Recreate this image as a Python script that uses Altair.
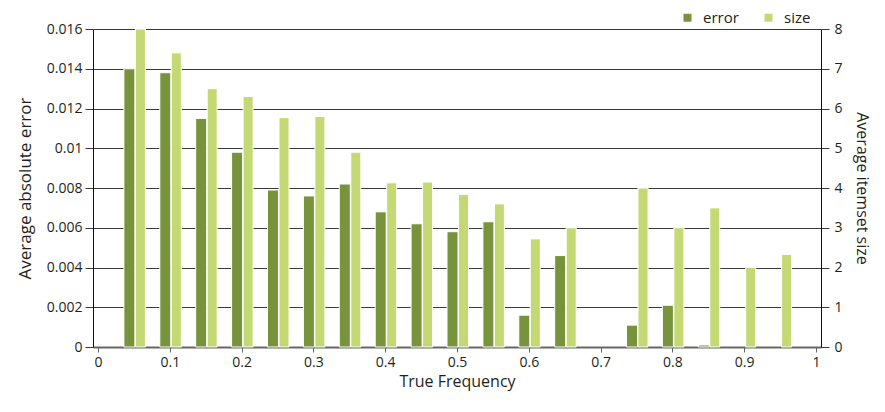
import altair as alt
import pandas as pd

freq = [0.05, 0.10, 0.15, 0.20, 0.25, 0.30, 0.35, 0.40, 0.45, 0.50,
        0.55, 0.60, 0.65, 0.70, 0.75, 0.80, 0.85, 0.90, 0.95]
error = [0.0140, 0.0138, 0.0115, 0.0098, 0.0079, 0.0076, 0.0082, 0.0068, 0.0062, 0.0058,
         0.0063, 0.0016, 0.0046, 0.0, 0.0011, 0.0021, 0.0001, 0.0, 0.0]
size = [8.0, 7.4, 6.5, 6.3, 5.77, 5.8, 4.9, 4.13, 4.15, 3.84,
        3.6, 2.72, 3.0, 0.0, 4.0, 3.0, 3.5, 2.0, 2.33]

x_ticks = [0, 0.1, 0.2, 0.3, 0.4, 0.5, 0.6, 0.7, 0.8, 0.9, 1]
err_ticks = [0, 0.002, 0.004, 0.006, 0.008, 0.01, 0.012, 0.014, 0.016]
size_ticks = [0, 1, 2, 3, 4, 5, 6, 7, 8]

df = pd.DataFrame({"freq": freq, "error": error, "size": size})

FONT = "Open Sans"
TXT = "#231f20"
DARK = "#77933c"
LIGHT = "#c4d873"

x = alt.X(
    "freq:Q",
    scale=alt.Scale(domain=[0, 1], nice=False, zero=False),
    axis=alt.Axis(values=x_ticks, format="~g", title="True Frequency", grid=False,
                  domainColor="#666", domainWidth=2, tickColor="#666", tickSize=5,
                  labelFontSize=14, titleFontSize=16, titlePadding=4, labelPadding=3,
                  labelColor=TXT, titleColor=TXT, labelFont=FONT, titleFont=FONT,
                  titleFontWeight="normal"),
)

color_scale = alt.Scale(domain=["error", "size"], range=[DARK, LIGHT])
legend = alt.Legend(title=None, orient="none", legendX=587, legendY=-19, direction="horizontal",
                    symbolType="square", symbolSize=64, symbolStrokeWidth=0,
                    labelFontSize=15, labelFont=FONT, labelColor=TXT, columnPadding=22,
                    labelOffset=8)
color = alt.Color("series:N", scale=color_scale, legend=legend)

err = alt.Chart(df).transform_filter("datum.error > 0").transform_calculate(
    series="'error'"
).mark_bar(
    width=11, xOffset=-4.5, stroke="white", strokeWidth=1
).encode(
    x=x,
    y=alt.Y("error:Q", scale=alt.Scale(domain=[0, 0.016], nice=False),
            axis=alt.Axis(values=err_ticks, format="~g", title="Average absolute error",
                          orient="left", grid=True, gridColor="#3a3a3a", gridWidth=1,
                          domainColor="#111", tickColor="#3a3a3a", tickSize=8,
                          labelFontSize=14, titleFontSize=17, titlePadding=12, labelPadding=3,
                          labelColor=TXT, titleColor=TXT, labelFont=FONT, titleFont=FONT,
                          titleFontWeight="normal")),
    color=color,
)

siz = alt.Chart(df).transform_filter("datum.size > 0").transform_calculate(
    series="'size'"
).mark_bar(
    width=10, xOffset=6.5, stroke="white", strokeWidth=1
).encode(
    x=x,
    y=alt.Y("size:Q", scale=alt.Scale(domain=[0, 8], nice=False),
            axis=alt.Axis(values=size_ticks, format="~g", title="Average itemset size",
                          orient="right", grid=False,
                          domainColor="#111", tickColor="#3a3a3a", tickSize=8,
                          labelFontSize=14, titleFontSize=16, titlePadding=11, labelPadding=5,
                          labelColor=TXT, titleColor=TXT, labelFont=FONT, titleFont=FONT,
                          titleFontWeight="normal", titleAngle=90)),
    color=color,
)

chart = alt.layer(err, siz).resolve_scale(y="independent").properties(
    width=728, height=318,
    autosize=alt.AutoSizeParams(type="none"),
    padding={"left": 85, "top": 21, "right": 52, "bottom": 46},
).configure_view(stroke=None).configure(background="white")

chart.save("out.html", embed_options={"renderer": "svg", "actions": False})
